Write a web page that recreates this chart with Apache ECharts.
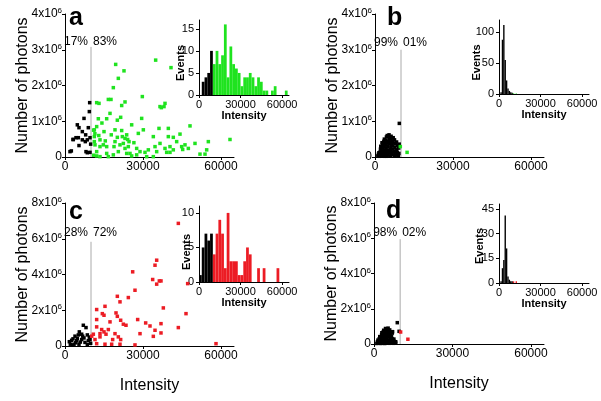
<!DOCTYPE html>
<html><head><meta charset="utf-8">
<script src="https://cdn.jsdelivr.net/npm/echarts@6/dist/echarts.min.js"></script>
<style>html,body{margin:0;padding:0;background:#fff}#c{width:601px;height:401px}</style>
</head><body><div id="c"></div>
<script>
// ---------- DATA ----------
const threshold = 10000;
const panelLetters = ['a','b','c','d'];
const pctA = ['17%','83%'], pctB = ['99%','01%'], pctC = ['28%','72%'], pctD = ['98%','02%'];
const lineTopA = 3.08, lineTopB = 3.0, lineTopC = 5.83, lineTopD = 5.95;
const mainXTicks = [0, 30000, 60000];
const yTicksAB = [0, 1, 2, 3, 4];      // x10^6
const yTicksCD = [0, 2, 4, 6, 8];      // x10^6
const insetXTicks = [0, 30000, 60000];
const insetYTicksA = [0, 5, 10, 15];
const insetYTicksB = [0, 50, 100];
const insetYTicksC = [0, 5, 10];
const insetYTicksD = [0, 15, 30, 45];
const binWidthAC = 2000, binWidthBD = 1000;

// scatter: [intensity, photons (x10^6)]
const scatterA_black = [[9490,1.52],[9360,1.27],[7310,1.08],[4740,0.90],[5380,0.82],[8970,0.82],[6670,0.71],[7950,0.62],[3200,0.49],[4230,0.54],[5130,0.54],[9620,0.54],[6670,0.48],[8590,0.48],[9870,0.36],[5380,0.32],[1920,0.15],[8080,0.15],[8590,0.12],[9620,0.13],[2440,0.17],[7820,0.43],[3080,0.49]];
const scatterA_green = [[34870,2.71],[19490,2.59],[22690,2.41],[40770,2.50],[20510,2.20],[18590,1.94],[16670,1.61],[17690,1.61],[29740,1.69],[38460,1.50],[36540,1.41],[38080,1.41],[12180,1.52],[13080,1.50],[23080,1.54],[21800,1.44],[17310,1.22],[21410,1.11],[20130,1.03],[16030,1.07],[29490,1.08],[39740,0.80],[36150,0.80],[48080,0.87],[12180,0.85],[11280,0.76],[15000,0.71],[19230,0.76],[25640,0.90],[21800,0.74],[23720,0.62],[23080,0.52],[24100,0.49],[22050,0.57],[20130,0.55],[19230,0.43],[24620,0.43],[22440,0.38],[30130,0.76],[33970,0.57],[39740,0.57],[41660,0.55],[44230,0.64],[13460,0.48],[14740,0.34],[11540,0.34],[12180,0.15],[13460,0.29],[16030,0.29],[16030,0.10],[18850,0.29],[18590,0.06],[20510,0.15],[21150,0.34],[23080,0.24],[24360,0.29],[25000,0.10],[27560,0.24],[28850,0.15],[30770,0.13],[32050,0.20],[34620,0.29],[36540,0.38],[38460,0.24],[40380,0.29],[42950,0.43],[44870,0.29],[45260,0.21],[46150,0.34],[47440,0.24],[41660,0.20],[40380,0.13],[39100,0.13],[35260,0.15],[50000,0.38],[55130,0.43],[63460,0.49],[51920,0.08],[53850,0.08],[54490,0.20],[12180,0.03],[13460,0.01],[16670,0.01],[23720,0.10],[25640,0.03],[27560,0.06],[31410,0.01],[33970,0.01],[11280,0.57],[11280,0.43],[12820,1.07],[11000,0.75],[11500,0.65],[11000,0.05],[13000,0.60],[15500,0.45],[17800,0.62],[26500,0.40],[28200,0.66],[14200,0.95],[37050,1.38]];
const scatterB_black = [[1100,0.03],[1300,0.08],[1500,0.12],[1600,0.02],[1900,0.05],[2000,0.14],[2100,0.22],[2200,0.30],[2300,0.09],[2600,0.03],[2700,0.17],[2800,0.26],[2900,0.35],[2700,0.40],[3000,0.10],[3300,0.05],[3400,0.20],[3500,0.30],[3400,0.44],[3600,0.50],[3700,0.13],[3800,0.37],[3600,0.02],[4100,0.08],[4200,0.24],[4300,0.33],[4100,0.47],[4400,0.56],[4500,0.15],[4600,0.41],[4400,0.02],[4700,0.60],[5000,0.05],[5100,0.20],[5000,0.30],[5200,0.45],[5100,0.57],[5400,0.62],[5300,0.12],[5500,0.37],[5600,0.52],[5900,0.03],[6000,0.18],[6100,0.27],[5900,0.42],[6200,0.58],[6300,0.10],[6300,0.35],[6100,0.50],[6700,0.06],[6800,0.22],[6900,0.31],[6700,0.45],[7000,0.54],[7100,0.14],[7000,0.39],[7500,0.03],[7600,0.17],[7700,0.27],[7500,0.48],[7800,0.10],[7900,0.38],[8300,0.05],[8400,0.20],[8500,0.33],[8300,0.42],[8600,0.12],[9000,0.03],[9100,0.25],[9200,0.10],[9300,0.36],[9350,0.94]];
const scatterB_green = [[9740,0.29],[12340,0.13]];
const scatterC_black = [[7050,1.16],[8080,1.03],[5510,0.79],[6410,0.66],[5130,0.62],[8590,0.62],[6800,0.55],[9360,0.50],[3850,0.55],[2560,0.32],[1670,0.24],[4490,0.30],[6410,0.36],[7690,0.20],[8970,0.30],[9620,0.36],[2050,0.10],[3460,0.10],[5380,0.10],[8590,0.08],[4740,0.42],[3080,0.40],[5900,0.22],[9870,0.15],[7300,0.45],[2900,0.05],[4100,0.18]];
const scatterC_red = [[43590,6.86],[35260,4.80],[34620,4.52],[26030,4.15],[33720,3.72],[36280,3.64],[36920,3.64],[35260,3.46],[47180,3.49],[26920,3.12],[20130,2.78],[21150,2.47],[24360,2.71],[37820,2.13],[12180,2.04],[15380,2.22],[14360,1.81],[15000,1.72],[19620,1.85],[20130,1.66],[46540,1.81],[12180,1.48],[17310,1.35],[21410,1.44],[22440,1.22],[23460,1.16],[27950,1.48],[31030,1.29],[32690,1.12],[34620,0.88],[36920,1.25],[36920,0.73],[33970,0.54],[43590,1.03],[28850,0.69],[12180,1.07],[14100,0.92],[15000,0.79],[15770,0.66],[16670,0.92],[19230,0.69],[20510,0.51],[21410,0.36],[18330,0.36],[13460,0.51],[11540,0.36],[10270,0.55],[12180,0.13],[15380,0.10],[17950,0.10],[21150,0.10],[26920,0.06],[58080,0.13],[10900,0.66],[13460,0.69]];
const scatterD_black = [[1100,0.03],[1300,0.12],[1500,0.22],[1700,0.05],[1900,0.15],[2000,0.30],[2200,0.42],[2300,0.05],[2100,0.22],[2600,0.03],[2700,0.15],[2800,0.28],[2700,0.40],[2900,0.52],[3000,0.64],[3300,0.05],[3400,0.18],[3500,0.30],[3400,0.43],[3600,0.55],[3500,0.68],[3700,0.78],[4100,0.03],[4200,0.15],[4300,0.28],[4100,0.40],[4400,0.52],[4200,0.65],[4500,0.78],[4400,0.88],[5000,0.06],[5100,0.18],[5000,0.32],[5200,0.45],[5100,0.58],[5300,0.70],[5200,0.82],[5400,0.90],[5900,0.04],[6000,0.16],[6100,0.29],[5900,0.42],[6200,0.55],[6100,0.68],[6000,0.80],[6700,0.05],[6800,0.18],[6900,0.30],[6700,0.45],[7000,0.62],[7100,0.70],[7500,0.04],[7700,0.15],[7600,0.28],[8300,0.05],[8300,0.13],[8900,1.21],[9600,0.72]];
const scatterD_red = [[10180,0.68],[12960,0.27]];

// histograms: [bin start, events]
const histA_black = [[2000,3],[4000,4],[6000,5],[8000,10]];
const histA_green = [[10000,7],[12000,10],[14000,7],[16000,9],[18000,16],[20000,4],[22000,11],[24000,7],[26000,6],[28000,5],[30000,2],[32000,4],[34000,4],[36000,5],[38000,4],[40000,2],[42000,4],[44000,3],[46000,1],[48000,1],[52000,1],[54000,2],[62000,1]];
const histB_black = [[1000,3],[2000,88],[3000,112],[4000,55],[5000,22],[6000,9],[7000,5],[8000,3],[9000,2]];
const histB_green = [[10000,1],[12000,1]];
const histC_black = [[0,1],[2000,5],[4000,7],[6000,6],[8000,7]];
const histC_red = [[10000,4],[12000,7],[14000,9],[16000,7],[18000,2],[20000,10],[22000,3],[24000,3],[26000,3],[28000,1],[30000,1],[32000,3],[34000,5],[36000,4],[42000,2],[46000,2],[56000,2]];
const histD_black = [[1000,1],[2000,9],[3000,14],[4000,41],[5000,21],[6000,4],[7000,2],[8000,1],[9000,1]];
const histD_red = [[10000,1],[12000,1]];

// ---------- STYLE / LAYOUT ----------
const FONT = 'Liberation Sans';
const GREEN = '#1fe31f', RED = '#ec1c24', BLACK = '#000000', GRAY = '#aaaaaa';

const mainGrids = [
  {left:65, top:14, width:169, height:143},
  {left:375, top:14, width:169, height:143},
  {left:65, top:203, width:169, height:143},
  {left:374, top:203, width:170, height:141}
];
const insetGrids = [
  {left:199, top:20, width:90, height:75},
  {left:499, top:20, width:90, height:74},
  {left:199, top:206, width:90, height:76},
  {left:499, top:204, width:90, height:79}
];
// "Events" title placement per inset: gap from axis, and shift along the axis
const eventsGap = [13, 17, 7, 14];
const eventsPad = [[0,11,0,0],[0,11,0,0],[0,16,0,0],[0,5,0,0]];

const panels = [
  {black:scatterA_black, other:scatterA_green, col:GREEN, pct:pctA, top:lineTopA, yTicks:yTicksAB, hb:histA_black, ho:histA_green, bw:binWidthAC, iy:insetYTicksA, iymax:17, pctOff:-5},
  {black:scatterB_black, other:scatterB_green, col:GREEN, pct:pctB, top:lineTopB, yTicks:yTicksAB, hb:histB_black, ho:histB_green, bw:binWidthBD, iy:insetYTicksB, iymax:120, pctOff:-7},
  {black:scatterC_black, other:scatterC_red, col:RED, pct:pctC, top:lineTopC, yTicks:yTicksCD, hb:histC_black, ho:histC_red, bw:binWidthAC, iy:insetYTicksC, iymax:11, pctOff:-9},
  {black:scatterD_black, other:scatterD_red, col:RED, pct:pctD, top:lineTopD, yTicks:yTicksCD, hb:histD_black, ho:histD_red, bw:binWidthBD, iy:insetYTicksD, iymax:48, pctOff:-6}
];

const axisLineStyle = {show:true, lineStyle:{color:'#000', width:1}};
const plain = v => String(v);
const grids = [...mainGrids, ...insetGrids];
const xAxes = [], yAxes = [], series = [];

function histItem(params, api) {
  const p0 = api.coord([api.value(0), 0]);
  const p1 = api.coord([api.value(1), api.value(2)]);
  return {type:'rect', shape:{x:p0[0], y:p1[1], width:p1[0]-p0[0], height:p0[1]-p1[1]}, style:{fill: api.visual('color')}};
}

panels.forEach((p, i) => {
  const bottomRow = i >= 2;
  xAxes.push({
    type:'value', gridIndex:i, min:0, max:65000,
    axisLine:axisLineStyle, splitLine:{show:false},
    axisTick:{show:true, length:3, customValues:mainXTicks, lineStyle:{color:'#000'}},
    axisLabel:{customValues:mainXTicks, formatter:plain, fontFamily:FONT, fontSize:12, color:'#000', margin:4},
    name: bottomRow ? 'Intensity' : '', nameLocation:'middle', nameGap:32, nameMoveOverlap:false,
    nameTextStyle:{fontFamily:FONT, fontSize:16, color:'#000'}
  });
  yAxes.push({
    type:'value', gridIndex:i, min:0, max:p.yTicks[p.yTicks.length-1],
    axisLine:axisLineStyle, splitLine:{show:false},
    axisTick:{show:true, length:3, customValues:p.yTicks, lineStyle:{color:'#000'}},
    axisLabel:{customValues:p.yTicks, margin:3, color:'#000',
      formatter: v => v === 0 ? '{m|0}' : '{m|' + v + 'x10}{s|6}',
      rich:{m:{fontFamily:FONT, fontSize:12, color:'#000', lineHeight:14},
            s:{fontFamily:FONT, fontSize:8, color:'#000', verticalAlign:'top', lineHeight:14}}},
    name:'Number of photons', nameLocation:'middle', nameGap:34, nameMoveOverlap:false,
    nameTextStyle:{fontFamily:FONT, fontSize:16, color:'#000'}
  });
});
panels.forEach((p, i) => {
  xAxes.push({
    type:'value', gridIndex:4+i, min:0, max:65000,
    axisLine:axisLineStyle, splitLine:{show:false},
    axisTick:{show:true, length:3, customValues:insetXTicks, lineStyle:{color:'#000'}},
    axisLabel:{customValues:insetXTicks, formatter:plain, fontFamily:FONT, fontSize:11, color:'#000', margin:4},
    name:'Intensity', nameLocation:'middle', nameGap:15, nameMoveOverlap:false,
    nameTextStyle:{fontFamily:FONT, fontSize:11, fontWeight:'bold', color:'#000'}
  });
  yAxes.push({
    type:'value', gridIndex:4+i, min:0, max:p.iymax,
    axisLine:axisLineStyle, splitLine:{show:false},
    axisTick:{show:true, length:3, customValues:p.iy, lineStyle:{color:'#000'}},
    axisLabel:{customValues:p.iy, formatter:plain, fontFamily:FONT, fontSize:11, color:'#000', margin:5},
    name:'Events', nameLocation:'middle', nameGap:eventsGap[i], nameMoveOverlap:false,
    nameTextStyle:{fontFamily:FONT, fontSize:11, fontWeight:'bold', color:'#000', padding:eventsPad[i]}
  });
});

const pctLabel = {fontFamily:FONT, fontSize:12, color:'#000', opacity:1, textBorderWidth:0};
panels.forEach((p, i) => {
  series.push({type:'line', xAxisIndex:i, yAxisIndex:i, data:[[threshold,0],[threshold,p.top]],
    symbol:'none', lineStyle:{color:GRAY, width:1}, silent:true, z:1});
  series.push({type:'scatter', xAxisIndex:i, yAxisIndex:i, symbolSize:0, silent:true, z:5,
    itemStyle:{opacity:1},
    data:[
      {value:[threshold,p.top], label:Object.assign({show:true, position:'left', distance:3, offset:[0,p.pctOff], formatter:p.pct[0]}, pctLabel)},
      {value:[threshold,p.top], label:Object.assign({show:true, position:'right', distance:2, offset:[0,p.pctOff], formatter:p.pct[1]}, pctLabel)}
    ]});
  series.push({type:'scatter', xAxisIndex:i, yAxisIndex:i, data:p.black, symbol:'rect', symbolSize:3.5,
    itemStyle:{color:BLACK, opacity:1}, z:3});
  series.push({type:'scatter', xAxisIndex:i, yAxisIndex:i, data:p.other, symbol:'rect', symbolSize:3.5,
    itemStyle:{color:p.col, opacity:1}, z:3});
  series.push({type:'custom', xAxisIndex:4+i, yAxisIndex:4+i, renderItem:histItem,
    data:p.hb.map(([s,c]) => [s, s+p.bw, c]), encode:{x:[0,1], y:2}, itemStyle:{color:BLACK}});
  series.push({type:'custom', xAxisIndex:4+i, yAxisIndex:4+i, renderItem:histItem,
    data:p.ho.map(([s,c]) => [s, s+p.bw, c]), encode:{x:[0,1], y:2}, itemStyle:{color:p.col}});
});

const letterPos = [{left:69, top:6}, {left:387, top:6}, {left:69, top:200}, {left:386, top:199}];
const graphic = panelLetters.map((t, i) => ({type:'text', left:letterPos[i].left, top:letterPos[i].top,
  style:{text:t, font:'bold 25px "' + FONT + '"', fill:'#000'}}));

const chart = echarts.init(document.getElementById('c'), null, {renderer:'canvas'});
chart.setOption({
  animation:false,
  backgroundColor:'#fff',
  textStyle:{fontFamily:FONT},
  grid:grids,
  xAxis:xAxes,
  yAxis:yAxes,
  series:series,
  graphic:graphic
});
</script></body></html>
